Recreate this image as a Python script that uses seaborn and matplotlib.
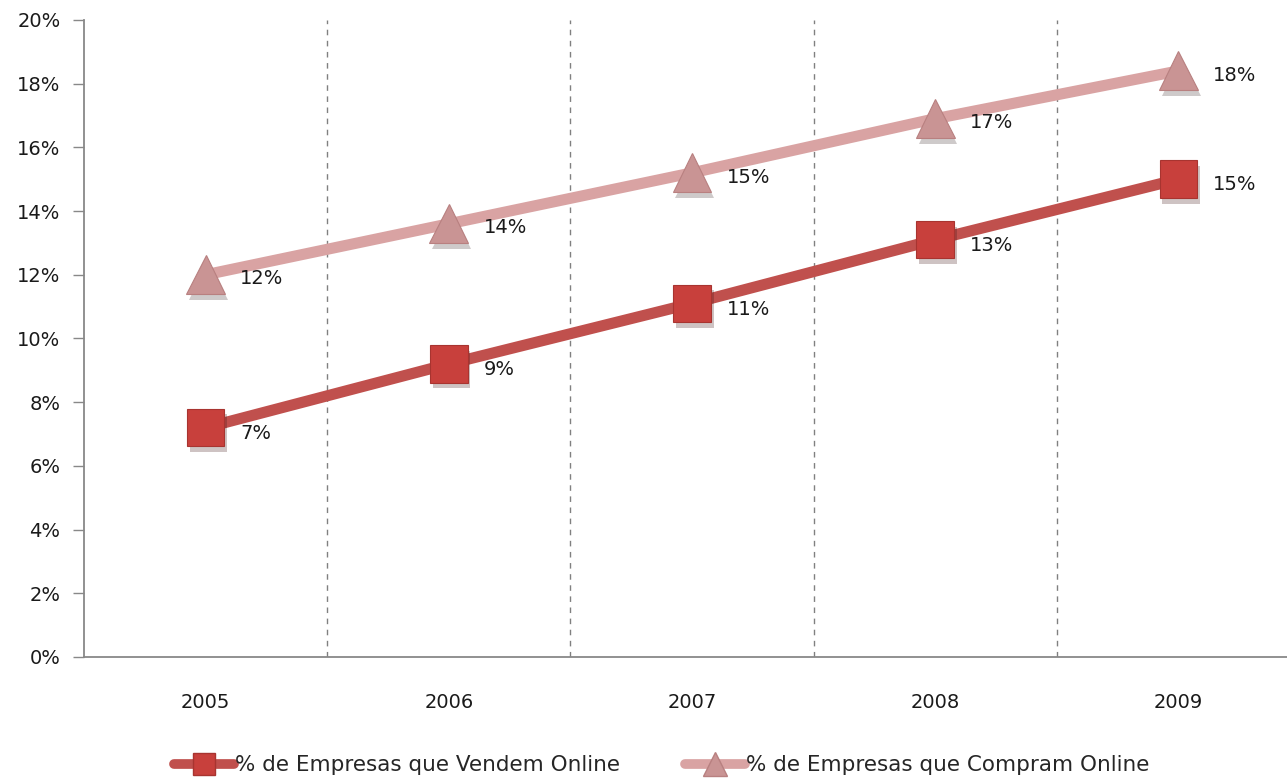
import matplotlib
matplotlib.use("Agg")
import matplotlib.pyplot as plt
import matplotlib.patheffects as pe
from matplotlib.lines import Line2D
from matplotlib.ticker import FuncFormatter, FixedLocator
import seaborn as sns
import pandas as pd

years = ["2005", "2006", "2007", "2008", "2009"]
vendem = [7.2, 9.2, 11.1, 13.1, 15.0]
compram = [12.0, 13.6, 15.2, 16.9, 18.4]
vendem_labels = ["7%", "9%", "11%", "13%", "15%"]
compram_labels = ["12%", "14%", "15%", "17%", "18%"]
name_v = "% de Empresas que Vendem Online"
name_c = "% de Empresas que Compram Online"

sns.set_theme(style="white")
plt.rcParams['font.family'] = ['DejaVu Sans']
FS = 14

fig = plt.figure(figsize=(12.87, 7.80), dpi=100)
ax = fig.add_axes([0.0653, 0.1577, 0.9448, 0.8167])

idx = list(range(len(years)))
df = pd.DataFrame({"x": idx * 2,
                   "y": vendem + compram,
                   "s": [name_v] * 5 + [name_c] * 5})

line_v = "#C0504D"
mark_v = "#C8403C"
line_c = "#D9A3A3"
mark_c = "#C99494"

shadow = [pe.SimplePatchShadow(offset=(2, -4), alpha=0.25), pe.Normal()]

dc = df[df.s == name_c]
dv = df[df.s == name_v]
sns.lineplot(data=dc, x="x", y="y", ax=ax, color=line_c, lw=8, legend=False)
sns.lineplot(data=dv, x="x", y="y", ax=ax, color=line_v, lw=8, legend=False)
mc, = ax.plot(dc["x"], dc["y"], ls="none", marker="^", markersize=28,
              markerfacecolor=mark_c, markeredgecolor="#B88080", markeredgewidth=0.8)
mv, = ax.plot(dv["x"], dv["y"], ls="none", marker="s", markersize=27,
              markerfacecolor=mark_v, markeredgecolor="#A83430", markeredgewidth=0.8)
mc.set_path_effects(shadow)
mv.set_path_effects(shadow)

for i in idx:
    ax.annotate(vendem_labels[i], (i, vendem[i]), xytext=(25, -4),
                textcoords="offset points", fontsize=FS, color="#1a1a1a",
                va="center", ha="left")
    ax.annotate(compram_labels[i], (i, compram[i]), xytext=(25, -3),
                textcoords="offset points", fontsize=FS, color="#1a1a1a",
                va="center", ha="left")

ax.set_xlim(-0.5, 4.5)
ax.set_ylim(0, 20)
ax.set_xticks(idx)
ax.set_xticklabels(years)
ax.xaxis.set_minor_locator(FixedLocator([0.5, 1.5, 2.5, 3.5]))
ax.set_yticks(range(0, 21, 2))
ax.yaxis.set_major_formatter(FuncFormatter(lambda v, p: f"{int(v)}%"))
ax.grid(which="minor", axis="x", ls=(0, (4, 4)), color="#808080", lw=1)
ax.grid(which="major", axis="y", visible=False)
ax.set_xlabel("")
ax.set_ylabel("")
ax.tick_params(axis="y", which="major", left=True, length=8, width=1,
               color="#888888", labelsize=FS, labelcolor="#1a1a1a", pad=9)
ax.tick_params(axis="x", which="both", bottom=False, labelsize=FS,
               labelcolor="#1a1a1a", pad=20)
for s in ["top", "right"]:
    ax.spines[s].set_visible(False)
for s in ["left", "bottom"]:
    ax.spines[s].set_color("#888888")
    ax.spines[s].set_linewidth(1.3)

handles = [
    Line2D([], [], color=line_v, lw=7, marker="s", markersize=16,
           markerfacecolor=mark_v, markeredgecolor="#A83430", solid_capstyle="round"),
    Line2D([], [], color=line_c, lw=7, marker="^", markersize=17,
           markerfacecolor=mark_c, markeredgecolor="#B88080", solid_capstyle="round"),
]
fig.legend(handles, [name_v, name_c], loc="lower center",
           bbox_to_anchor=(0.514, -0.019), ncol=2, frameon=False,
           fontsize=15.5, handlelength=2.8, handletextpad=0.05,
           columnspacing=3.0)

fig.savefig("out.png", dpi=100)
